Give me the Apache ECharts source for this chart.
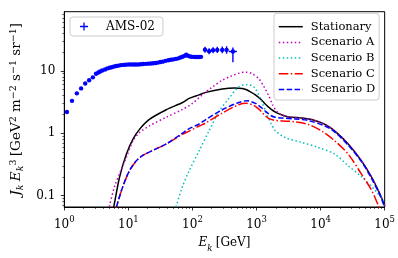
<!DOCTYPE html>
<html><head><meta charset="utf-8">
<script src="https://cdn.jsdelivr.net/npm/echarts@6/dist/echarts.min.js"></script>
<style>html,body{margin:0;padding:0;background:#fff}#c{width:398px;height:258px}</style>
</head><body><div id="c"></div>
<script>
// ---- data ----
const amsE = [1.10,1.32,1.57,1.83,2.12,2.44,2.79,3.13,3.4,3.62,3.9,4.32,4.7,5.1,5.5,6.0,6.5,7.0,7.6,8.3,9.1,10,11,12,13,14.2,15.5,17,18.7,20.4,22.5,24.5,26.7,29,31.5,34.5,38,42,46,50,55,60,65,70,75,80,85,90,96,103,110,118,127,136];
const amsJ = [2.18,3.29,4.34,5.21,6.24,7.03,7.84,8.97,9.4,9.75,10.1,10.5,10.9,11.2,11.4,11.7,11.9,12.1,12.3,12.4,12.5,12.6,12.6,12.6,12.6,12.6,12.7,12.8,12.9,13.0,13.1,13.2,13.3,13.5,13.8,14.0,14.4,14.7,15.0,15.2,15.5,15.8,16.3,16.8,17.3,18.0,17.4,17.0,16.8,16.7,16.6,16.6,16.6,16.7];
const errE   = [157,182,210,244,292,341,428];
const errJ   = [21.8,20.6,21.4,21.6,21.6,21.6,20.4];
const errJLo = [19.5,18.4,19.1,19.2,19.0,18.8,13.7];
const errJHi = [24.3,23.0,23.9,24.2,24.4,24.6,23.6];
const errELo = [147,171,197,229,274,320,371];
const errEHi = [168,194,224,261,312,364,494];

const statE = [5.5,5.9,7.3,9.3,11.8,14.9,21,39,70,89,127,162,292,450,600,700,800,960,1200,1380,1700,2000,2500,3150,5070,7250,11700,16700,27000,43500,62000,83000,97000,100000];
const statJ = [0.05,0.065,0.20,0.46,0.80,1.15,1.65,2.37,3.1,3.6,4.1,4.5,5.1,5.3,5.2,4.95,4.6,4.1,3.4,2.9,2.4,2.15,1.95,1.82,1.75,1.65,1.38,1.08,0.67,0.36,0.2,0.11,0.075,0.068];

const scAE = [4.7,5.0,6.1,7.3,9.3,11.8,14.9,21,39,70,100,142,200,290,400,550,700,850,1080,1300,1550,1800,2100,2500,3150,5070,7250,11700,16700,27000,43500,62000,83000,97000,100000];
const scAJ = [0.05,0.065,0.14,0.224,0.41,0.75,1.02,1.3,1.8,2.4,3.0,4.1,5.4,7.0,8.2,9.2,9.5,9.0,7.5,5.6,4.0,2.8,2.2,1.95,1.82,1.75,1.65,1.38,1.08,0.67,0.36,0.2,0.11,0.075,0.068];

const scBE = [50,55,70,89,127,181,260,370,527,710,910,1150,1450,1700,1960,2800,5100,9200,16700,27000,43500,70000,97000,100000];
const scBJ = [0.05,0.065,0.14,0.25,0.52,1.08,2.24,3.6,5.5,6.0,5.5,3.6,1.98,1.4,1.1,0.85,0.71,0.59,0.46,0.30,0.2,0.123,0.08,0.075];

const scCE = [6.1,6.5,8.2,10.4,13.3,16.8,27,39,70,89,127,162,292,527,700,900,1100,1300,1550,1960,2500,4000,6450,10400,16700,27000,43500,62000,79000,85000];
const scCJ = [0.05,0.065,0.14,0.25,0.36,0.44,0.56,0.67,0.96,1.08,1.3,1.46,2.1,2.85,3.0,2.8,2.4,2.0,1.72,1.6,1.57,1.52,1.38,1.08,0.75,0.46,0.22,0.123,0.071,0.06];

const scDE = [6.1,6.5,8.2,10.4,13.3,16.8,27,39,70,89,127,162,292,527,710,960,1200,1380,1700,1960,2500,4000,6450,11700,16700,27000,43500,62000,83000,100000];
const scDJ = [0.05,0.065,0.14,0.25,0.36,0.44,0.56,0.67,1.0,1.18,1.4,1.65,2.37,3.1,3.3,3.0,2.55,2.24,1.9,1.8,1.75,1.69,1.59,1.3,1.04,0.64,0.35,0.19,0.105,0.065];

const xMajor = [1,10,100,1000,10000,100000];
const yMajor = [0.1,1,10];
const yMajorLabels = ['0.1','1','10'];
const xMinor = [], yMinor = [];
for (let n = 0; n < 5; n++) for (let k = 2; k <= 9; k++) xMinor.push(k * Math.pow(10, n));
[0.07,0.08,0.09,0.2,0.3,0.4,0.5,0.6,0.7,0.8,0.9,2,3,4,5,6,7,8,9,20,30,40,50,60,70,80].forEach(v => yMinor.push(v));

// ---- chart ----
const FONT = 'DejaVu Serif';
const zip = (a, b) => a.map((v, i) => [v, b[i]]);
const chart = echarts.init(document.getElementById('c'), null, {renderer: 'canvas'});
const grid = {left: 64.3, right: 11.5, top: 11.7, bottom: 47.5, show: true, borderColor: '#000', borderWidth: 1};
const xBase = {type: 'log', logBase: 10, min: 1, max: 100000, gridIndex: 0, position: 'bottom'};
const yBase = {type: 'log', logBase: 10, min: 0.0655, max: 88.4, gridIndex: 0, position: 'left'};
const lineS = (name, e, j, color, type, w) => ({
  name, type: 'line', data: zip(e, j), symbol: 'none', smooth: 0.3, clip: true,
  lineStyle: {color, width: w || 1.5, type, cap: 'butt'}, itemStyle: {color}, z: 3
});
const option = {
  animation: false,
  grid,
  xAxis: [
    Object.assign({}, xBase, {
      axisLine: {show: true, lineStyle: {color: '#000', width: 1}},
      axisTick: {show: true, length: 3.5, lineStyle: {color: '#000', width: 0.8}, customValues: xMajor},
      axisLabel: {show: true, margin: 8, customValues: xMajor, color: '#000',
        formatter: v => '{b|10}{s|' + Math.round(Math.log10(v)) + '}',
        rich: {b: {fontFamily: FONT, fontSize: 12, lineHeight: 16, verticalAlign: 'bottom'},
               s: {fontFamily: FONT, fontSize: 8.5, lineHeight: 10, verticalAlign: 'top'}}},
      splitLine: {show: false},
      name: '{i|E}{sub|k} {n|[GeV]}', nameLocation: 'middle', nameGap: 30,
      nameTextStyle: {color: '#000', rich: {
        i: {fontFamily: FONT, fontStyle: 'italic', fontSize: 12, lineHeight: 16, verticalAlign: 'top', color: '#000'},
        sub: {fontFamily: FONT, fontStyle: 'italic', fontSize: 8.5, lineHeight: 10, verticalAlign: 'bottom', color: '#000'},
        n: {fontFamily: FONT, fontSize: 12, lineHeight: 16, verticalAlign: 'top', color: '#000'}}}
    }),
    Object.assign({}, xBase, {
      axisLine: {show: false},
      axisTick: {show: true, length: 2, lineStyle: {color: '#000', width: 0.6}, customValues: xMinor},
      axisLabel: {show: false}, splitLine: {show: false}
    })
  ],
  yAxis: [
    Object.assign({}, yBase, {
      axisLine: {show: true, lineStyle: {color: '#000', width: 1}},
      axisTick: {show: true, length: 3.5, lineStyle: {color: '#000', width: 0.8}, customValues: yMajor},
      axisLabel: {show: true, margin: 9, customValues: yMajor, color: '#000', fontFamily: FONT, fontSize: 12,
        formatter: v => yMajorLabels[yMajor.findIndex(m => Math.abs(m - v) / m < 1e-6)]},
      splitLine: {show: false},
      name: '{i|J}{sub|k} {i|E}{sub|k}{sup|3} {n|[GeV}{sup|2}{n| m}{sup|−2}{n| s}{sup|−1}{n| sr}{sup|−1}{n|]}',
      nameLocation: 'middle', nameGap: 32, nameRotate: 90,
      nameTextStyle: {color: '#000', rich: {
        i: {fontFamily: FONT, fontStyle: 'italic', fontSize: 13.5, lineHeight: 17, verticalAlign: 'middle', color: '#000'},
        sub: {fontFamily: FONT, fontStyle: 'italic', fontSize: 9.5, lineHeight: 9, verticalAlign: 'bottom', color: '#000'},
        sup: {fontFamily: FONT, fontSize: 9.5, lineHeight: 9, verticalAlign: 'top', color: '#000'},
        n: {fontFamily: FONT, fontSize: 13.5, lineHeight: 17, verticalAlign: 'middle', color: '#000'}}}
    }),
    Object.assign({}, yBase, {
      axisLine: {show: false},
      axisTick: {show: true, length: 2, lineStyle: {color: '#000', width: 0.6}, customValues: yMinor},
      axisLabel: {show: false}, splitLine: {show: false}
    })
  ],
  legend: [
    {data: [{name: 'AMS-02', icon: 'path://M4.2,0H5.8V4.2H10V5.8H5.8V10H4.2V5.8H0V4.2H4.2Z'}],
     left: 70, top: 17, orient: 'vertical', itemWidth: 8, itemHeight: 8,
     padding: [3.5, 8, 3.5, 10], backgroundColor: 'rgba(255,255,255,0.8)', borderColor: '#cccccc', borderWidth: 1, borderRadius: 3,
     textStyle: {fontFamily: FONT, fontSize: 12, lineHeight: 12, color: '#000', padding: [0, 0, 0, 13]}},
    {data: ['Stationary', 'Scenario A', 'Scenario B', 'Scenario C', 'Scenario D'],
     left: 274, top: 13.3, orient: 'vertical', itemWidth: 24, itemHeight: 10, itemGap: 3.7,
     itemStyle: {opacity: 0}, lineStyle: {width: 1.5},
     padding: [7.4, 4, 4.5, 4], backgroundColor: 'rgba(255,255,255,0.8)', borderColor: '#cccccc', borderWidth: 1, borderRadius: 3,
     textStyle: {fontFamily: FONT, fontSize: 11.5, lineHeight: 12, color: '#000', padding: [0, 0, 0, 3]}}
  ],
  series: [
    {name: 'AMS-02', type: 'scatter', data: zip(amsE, amsJ).concat(zip(errE, errJ)), symbol: 'circle', symbolSize: 4.4,
     itemStyle: {color: '#0000ff', opacity: 1}, z: 4},
    {name: 'AMS-02', type: 'custom', data: errE.map((e, i) => [e, errJ[i], errJLo[i], errJHi[i], errELo[i], errEHi[i]]),
     encode: {x: 0, y: 1}, z: 4, clip: true,
     renderItem: (params, api) => {
       const e = api.value(0), j = api.value(1);
       const a = api.coord([e, api.value(2)]), b = api.coord([e, api.value(3)]);
       const c = api.coord([api.value(4), j]), d = api.coord([api.value(5), j]);
       const st = {stroke: '#0000ff', lineWidth: 1.4};
       return {type: 'group', children: [
         {type: 'line', shape: {x1: a[0], y1: a[1], x2: b[0], y2: b[1]}, style: st},
         {type: 'line', shape: {x1: c[0], y1: c[1], x2: d[0], y2: d[1]}, style: st}]};
     }},
    lineS('Stationary', statE, statJ, '#000000', 'solid'),
    lineS('Scenario A', scAE, scAJ, '#bf00bf', [1.5, 2.5]),
    lineS('Scenario B', scBE, scBJ, '#00bfbf', [1.5, 2.5]),
    lineS('Scenario C', scCE, scCJ, '#ff0000', [9.6, 2.4, 1.5, 2.4]),
    lineS('Scenario D', scDE, scDJ, '#0000ff', [5.5, 2.4])
  ]
};
chart.setOption(option);
</script></body></html>
